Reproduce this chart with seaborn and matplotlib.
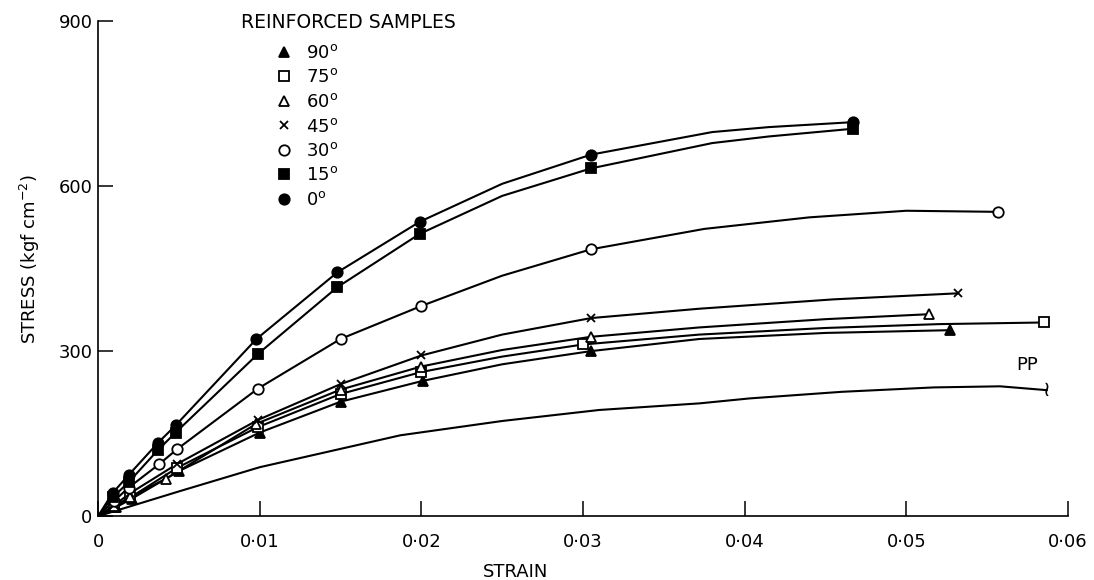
import numpy as np
import pandas as pd
import matplotlib
matplotlib.use('Agg')
import matplotlib.pyplot as plt
import seaborn as sns
from matplotlib.lines import Line2D

# values (strain, stress in kgf cm^-2)
angles = ['90', '75', '60', '45', '30', '15', '0']

strain_90 = [0.0011, 0.0021, 0.0050, 0.0100, 0.0150, 0.0201, 0.0305, 0.0527]
stress_90 = [16, 32, 82, 152, 208, 246, 300, 338]
strain_75 = [0.0010, 0.0020, 0.0049, 0.0099, 0.0150, 0.0200, 0.0300, 0.0585]
stress_75 = [17, 34, 88, 162, 222, 262, 312, 352]
strain_60 = [0.0010, 0.0020, 0.0042, 0.0098, 0.0150, 0.0200, 0.0305, 0.0514]
stress_60 = [18, 35, 68, 168, 230, 272, 326, 367]
strain_45 = [0.0010, 0.0020, 0.0049, 0.0099, 0.0150, 0.0200, 0.0305, 0.0532]
stress_45 = [20, 42, 95, 175, 240, 292, 360, 405]
strain_30 = [0.0010, 0.0019, 0.0038, 0.0049, 0.0099, 0.0150, 0.0200, 0.0305, 0.0557]
stress_30 = [28, 52, 95, 122, 232, 322, 382, 485, 553]
strain_15 = [0.0009, 0.0019, 0.0037, 0.0048, 0.0099, 0.0148, 0.0199, 0.0305, 0.0467]
stress_15 = [34, 62, 120, 152, 295, 416, 513, 632, 704]
strain_0 = [0.0009, 0.0019, 0.0037, 0.0048, 0.0098, 0.0148, 0.0199, 0.0305, 0.0467]
stress_0 = [42, 75, 133, 165, 322, 443, 535, 657, 716]

# extra points along the drawn curves (no markers there)
line_strain_90 = [0.0250, 0.0372, 0.0450]
line_stress_90 = [276, 322, 333]
line_strain_75 = [0.0250, 0.0372, 0.0450, 0.0520]
line_stress_75 = [290, 330, 342, 349]
line_strain_60 = [0.0250, 0.0372, 0.0450]
line_stress_60 = [302, 343, 358]
line_strain_45 = [0.0250, 0.0372, 0.0455]
line_stress_45 = [330, 377, 394]
line_strain_30 = [0.0250, 0.0375, 0.0440, 0.0500]
line_stress_30 = [437, 522, 543, 555]
line_strain_15 = [0.0250, 0.0380, 0.0415]
line_stress_15 = [582, 678, 690]
line_strain_0 = [0.0250, 0.0380, 0.0415]
line_stress_0 = [604, 698, 707]

pp_strain = [0.0, 0.0050, 0.0100, 0.0187, 0.0250, 0.0310, 0.0372, 0.0403,
             0.0460, 0.0517, 0.0558, 0.0587]
pp_stress = [0, 45, 89, 147, 173, 193, 205, 214, 226, 234, 236, 229]

xticks = [0, 0.01, 0.02, 0.03, 0.04, 0.05, 0.06]
xtick_labels = ['0', '0·01', '0·02', '0·03', '0·04', '0·05', '0·06']
yticks = [0, 300, 600, 900]

marker_style = {
    '90': dict(marker='^', mfc='black'),
    '75': dict(marker='s', mfc='white'),
    '60': dict(marker='^', mfc='white'),
    '45': dict(marker='x', mfc='black'),
    '30': dict(marker='o', mfc='white'),
    '15': dict(marker='s', mfc='black'),
    '0': dict(marker='o', mfc='black'),
}

g = globals()
pts = []
lines = []
for a in angles:
    sx, sy = g['strain_' + a], g['stress_' + a]
    lx, ly = g['line_strain_' + a], g['line_stress_' + a]
    pts.append(pd.DataFrame({'strain': sx, 'stress': sy, 'angle': a}))
    d = pd.DataFrame({'strain': [0.0] + sx + lx, 'stress': [0] + sy + ly,
                      'angle': a}).sort_values('strain')
    lines.append(d)
pts = pd.concat(pts)
lines = pd.concat(lines)
pp = pd.DataFrame({'strain': pp_strain, 'stress': pp_stress})

sns.set_style('white')
plt.rcParams['font.family'] = ['DejaVu Sans']
plt.rcParams['mathtext.fontset'] = 'dejavusans'
plt.rcParams['text.color'] = 'black'
plt.rcParams['axes.labelcolor'] = 'black'
plt.rcParams['xtick.color'] = 'black'
plt.rcParams['ytick.color'] = 'black'

fig = plt.figure(figsize=(10.94, 5.8), dpi=100)
ax = fig.add_axes([0.0896, 0.110, 0.8866, 0.854])

for a in angles:
    sns.lineplot(data=lines[lines.angle == a], x='strain', y='stress',
                 color='black', linewidth=1.5, ax=ax, sort=False, estimator=None)
sns.lineplot(data=pp, x='strain', y='stress', color='black', linewidth=1.5,
             ax=ax, estimator=None)

def msize(m):
    return 7.5 if m != 'x' else 6

for a in angles:
    st = marker_style[a]
    d = pts[pts.angle == a]
    ax.plot(d.strain, d.stress, ls='none', marker=st['marker'], mfc=st['mfc'],
            mec='black', color='black', ms=msize(st['marker']),
            mew=1.3, zorder=5, clip_on=False)

ax.text(0.0575, 258, 'PP', fontsize=13, ha='center', va='bottom')
ax.text(0.0587, 229, '≀', fontsize=15, ha='center', va='center')

ax.set_xlim(0, 0.06)
ax.set_ylim(0, 900)
ax.set_xticks(xticks)
ax.set_xticklabels(xtick_labels)
ax.set_yticks(yticks)
ax.set_yticklabels([str(v) for v in yticks])
ax.tick_params(bottom=True, left=True, direction='in', length=11, width=1.1,
               labelsize=13, color='black')
ax.tick_params(axis='x', pad=12)
ax.tick_params(axis='y', pad=4)
for s in ['top', 'right']:
    ax.spines[s].set_visible(False)
for s in ['left', 'bottom']:
    ax.spines[s].set_color('black')
    ax.spines[s].set_linewidth(1.2)

ax.set_xlabel('STRAIN', fontsize=13)
ax.xaxis.set_label_coords(0.43, -0.095)
ax.set_ylabel('STRESS (kgf cm$^{-2}$)', fontsize=13)
ax.yaxis.set_label_coords(-0.058, 0.52)

fig.text(241 / 1094, 1 - 22 / 580, 'REINFORCED SAMPLES', fontsize=13.5,
         ha='left', va='center')
handles = []
for a in angles:
    st = marker_style[a]
    handles.append(Line2D([], [], ls='none', marker=st['marker'], mfc=st['mfc'],
                          mec='black', color='black',
                          ms=msize(st['marker']), mew=1.3))
labels = [a + '$^{\\mathrm{o}}$' for a in angles]
leg = ax.legend(handles, labels, loc='upper left', frameon=False,
                bbox_to_anchor=(273 / 1094, 1 - 44 / 580),
                bbox_transform=fig.transFigure, fontsize=13, borderpad=0,
                handlelength=1.2, handletextpad=0.6, labelspacing=0.36,
                borderaxespad=0)

fig.savefig('out.png', dpi=100)
